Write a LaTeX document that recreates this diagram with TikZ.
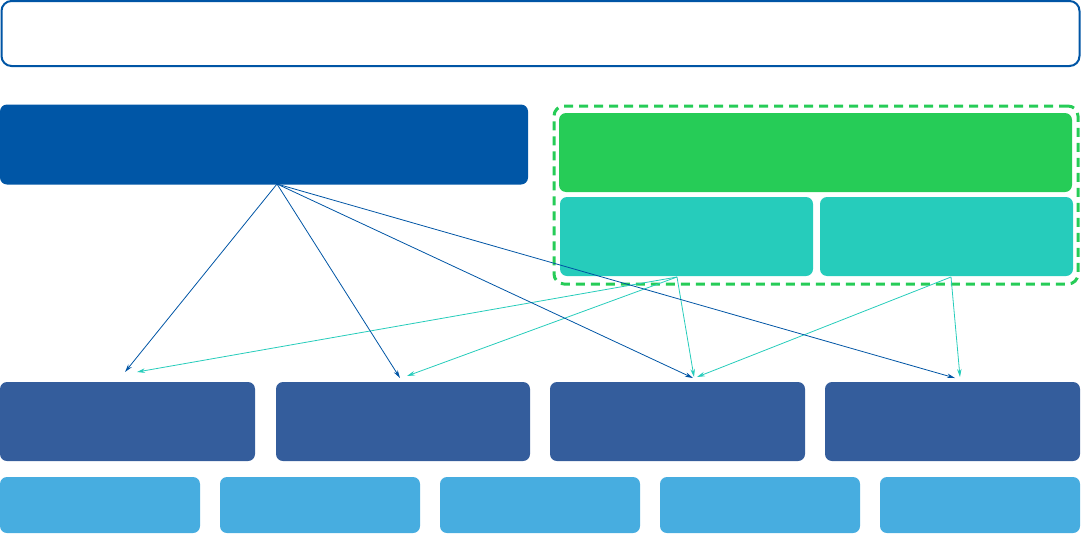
\documentclass[tikz,border=0pt]{standalone}
\usetikzlibrary{arrows.meta}
\definecolor{topblue}{HTML}{0055A5}
\definecolor{darkblue}{HTML}{0056A6}
\definecolor{green}{HTML}{26CC57}
\definecolor{teal}{HTML}{26CCBB}
\definecolor{midblue}{HTML}{345D9C}
\definecolor{lightblue}{HTML}{47ADE0}
\tikzset{
  blk/.style={rounded corners=7pt, inner sep=0pt, draw=none},
  ablue/.style={draw=topblue, line width=0.8pt, -{Stealth[length=8pt,width=4.5pt]}},
  ateal/.style={draw=teal, line width=0.8pt, -{Stealth[length=8pt,width=4.5pt]}},
}
\begin{document}
\begin{tikzpicture}[x=1pt,y=-1pt]
\useasboundingbox (0,0) rectangle (1082,533);
% top box
\node[blk, draw=topblue, line width=2pt, fill=white, rounded corners=10pt, minimum width=1078pt, minimum height=65pt] (top) at (540.5,33.5) {};
% dark blue
\node[blk, fill=darkblue, minimum width=528pt, minimum height=80pt] (main) at (264,144.5) {};
% dashed group
\node[blk, draw=green, line width=3pt, dash pattern=on 9pt off 6pt, rounded corners=10pt, minimum width=524pt, minimum height=178pt] (grp) at (816,195) {};
\node[blk, fill=green, minimum width=513pt, minimum height=79pt] (g1) at (815.5,152.5) {};
\node[blk, fill=teal, minimum width=253pt, minimum height=79pt] (t1) at (686.5,236.5) {};
\node[blk, fill=teal, minimum width=253pt, minimum height=79pt] (t2) at (946.5,236.5) {};
% middle row
\node[blk, fill=midblue, minimum width=255pt, minimum height=79pt] (m1) at (127.5,421.5) {};
\node[blk, fill=midblue, minimum width=254pt, minimum height=79pt] (m2) at (403,421.5) {};
\node[blk, fill=midblue, minimum width=255pt, minimum height=79pt] (m3) at (677.5,421.5) {};
\node[blk, fill=midblue, minimum width=255pt, minimum height=79pt] (m4) at (952.5,421.5) {};
% bottom row
\node[blk, fill=lightblue, minimum width=200pt, minimum height=56pt] (b1) at (100,505) {};
\node[blk, fill=lightblue, minimum width=200pt, minimum height=56pt] (b2) at (320,505) {};
\node[blk, fill=lightblue, minimum width=200pt, minimum height=56pt] (b3) at (540,505) {};
\node[blk, fill=lightblue, minimum width=200pt, minimum height=56pt] (b4) at (760,505) {};
\node[blk, fill=lightblue, minimum width=200pt, minimum height=56pt] (b5) at (980,505) {};
% connector endpoints
\coordinate (mo) at (277,184);
\coordinate (to1) at (677,277);
\coordinate (to2) at (951,277);
\coordinate (e1) at (125,372);
\coordinate (e2) at (400,378);
\coordinate (e3) at (693,378);
\coordinate (e4) at (955,378);
\coordinate (f1) at (137,372);
\coordinate (f2) at (407,376);
\coordinate (f3) at (694,377);
\coordinate (f4) at (697,377);
\coordinate (f5) at (960,377);
\draw[ateal] (to1) -- (f1);
\draw[ateal] (to1) -- (f2);
\draw[ateal] (to1) -- (f3);
\draw[ateal] (to2) -- (f4);
\draw[ateal] (to2) -- (f5);
\draw[ablue] (mo) -- (e1);
\draw[ablue] (mo) -- (e2);
\draw[ablue] (mo) -- (e3);
\draw[ablue] (mo) -- (e4);
\end{tikzpicture}
\end{document}
